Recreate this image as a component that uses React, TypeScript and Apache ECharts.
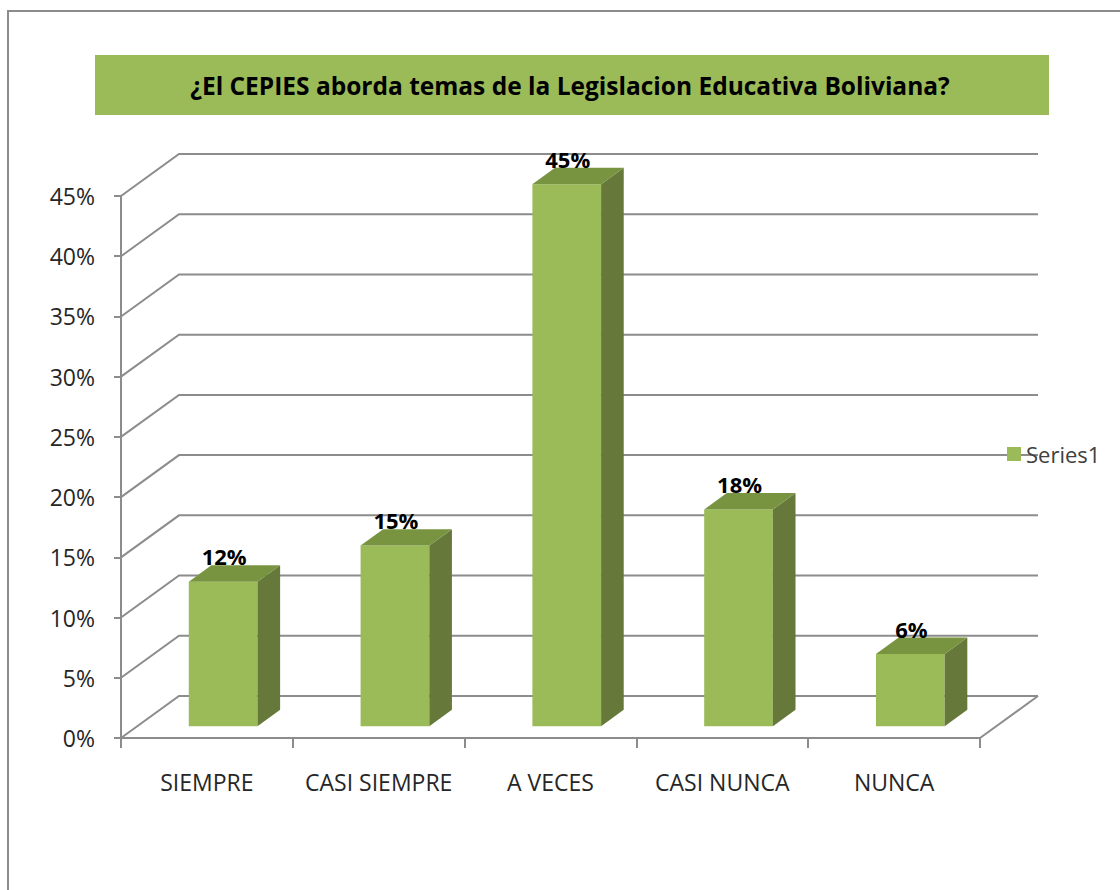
import React, { useEffect, useRef } from "react";
import * as echarts from "echarts";

const categories = ["SIEMPRE", "CASI SIEMPRE", "A VECES", "CASI NUNCA", "NUNCA"];
const values = [12, 15, 45, 18, 6];
const gridValues = [0, 5, 10, 15, 20, 25, 30, 35, 40, 45];
const seriesName = "Series1";
const titleText = "¿El CEPIES aborda temas de la Legislacion Educativa Boliviana?";

const FONT = '"Open Sans", "Liberation Sans", sans-serif';
const DX = 58;
const DY = 42;
const F1 = 0.28;
const F2 = 0.39;
const GRID_COLOR = "#8c8c8c";
const FRONT = "#9BBB59";
const SIDE = "#66793A";
const TOP = "#789440";

export default function App() {
  const ref = useRef<HTMLDivElement>(null);
  useEffect(() => {
    document.body.style.margin = "0";
    const chart = echarts.init(ref.current!, null, { renderer: "svg" });
    const option: any = {
      animation: false,
      backgroundColor: "#ffffff",
      graphic: [
        {
          type: "rect",
          z: 0,
          shape: { x: 8, y: 11, width: 1140, height: 920 },
          style: { fill: "none", stroke: GRID_COLOR, lineWidth: 2 },
        },
        {
          type: "rect",
          z: 1,
          shape: { x: 95, y: 55, width: 954, height: 60 },
          style: { fill: FRONT },
        },
        {
          type: "text",
          z: 2,
          x: 570,
          y: 85,
          style: {
            text: titleText,
            fill: "#000000",
            font: `bold 24.5px ${FONT}`,
            align: "center",
            verticalAlign: "middle",
            textAlign: "center",
            textVerticalAlign: "middle",
          },
        },
      ],
      legend: {
        show: true,
        data: [seriesName],
        left: 1002,
        top: 438,
        icon: "rect",
        itemWidth: 14,
        itemHeight: 14,
        selectedMode: false,
        textStyle: { fontSize: 22, fontFamily: FONT, color: "#404040" },
      },
      grid: {
        left: 121,
        top: 196,
        width: 859,
        height: 542,
        containLabel: false,
        outerBoundsMode: "none",
      },
      xAxis: {
        type: "category",
        data: categories,
        axisLine: { show: true, lineStyle: { color: GRID_COLOR, width: 2 } },
        axisTick: { show: true, interval: 0, length: 10, lineStyle: { color: GRID_COLOR, width: 2 } },
        axisLabel: { interval: 0, margin: 32, fontSize: 23, fontFamily: FONT, color: "#262626" },
        splitLine: { show: false },
      },
      yAxis: {
        type: "value",
        min: 0,
        max: 45,
        interval: 5,
        axisLine: { show: true, lineStyle: { color: GRID_COLOR, width: 2 } },
        axisTick: { show: true, length: 7, lineStyle: { color: GRID_COLOR, width: 2 } },
        axisLabel: {
          formatter: "{value}%",
          margin: 26,
          fontSize: 23,
          fontFamily: FONT,
          color: "#262626",
        },
        splitLine: { show: false },
      },
      series: [
        {
          name: "walls",
          type: "custom",
          z: 1,
          silent: true,
          clip: false,
          encode: { x: 0, y: 1 },
          data: gridValues.map((v) => [0, v]),
          renderItem: (params: any, api: any) => {
            const cs = params.coordSys;
            const v = api.value(1);
            const y = api.coord([0, v])[1];
            const x0 = cs.x;
            const x1 = cs.x + cs.width;
            const style = { stroke: GRID_COLOR, lineWidth: 2, fill: "none" };
            const children: any[] = [
              {
                type: "polyline",
                shape: { points: [[x0, y], [x0 + DX, y - DY], [x1 + DX, y - DY]] },
                style,
              },
            ];
            if (v === 0) {
              children.push({
                type: "line",
                shape: { x1: x1, y1: y, x2: x1 + DX, y2: y - DY },
                style,
              });
            }
            return { type: "group", children };
          },
        },
        {
          name: seriesName,
          type: "custom",
          z: 2,
          clip: false,
          itemStyle: { color: FRONT },
          encode: { x: 0, y: 1 },
          data: values.map((v, i) => [i, v]),
          renderItem: (params: any, api: any) => {
            const i = api.value(0);
            const v = api.value(1);
            const base = api.coord([i, 0]);
            const top = api.coord([i, v]);
            const w = api.size([1, 0])[0] * 0.4;
            const cx = base[0] + F1 * DX;
            const xl = cx - w / 2;
            const xr = cx + w / 2;
            const yb = base[1] - F1 * DY;
            const yt = top[1] - F1 * DY;
            const sx = F2 * DX;
            const sy = F2 * DY;
            return {
              type: "group",
              children: [
                {
                  type: "rect",
                  shape: { x: xl, y: yt, width: w, height: yb - yt },
                  style: { fill: FRONT },
                },
                {
                  type: "polygon",
                  shape: { points: [[xr, yb], [xr, yt], [xr + sx, yt - sy], [xr + sx, yb - sy]] },
                  style: { fill: SIDE },
                },
                {
                  type: "polygon",
                  shape: { points: [[xl, yt], [xr, yt], [xr + sx, yt - sy], [xl + sx, yt - sy]] },
                  style: { fill: TOP },
                },
                {
                  type: "text",
                  x: cx + 1,
                  y: yt - sy + 2,
                  style: {
                    text: `${v}%`,
                    fill: "#000000",
                    font: `bold 22px ${FONT}`,
                    align: "center",
                    verticalAlign: "bottom",
                    textAlign: "center",
                    textVerticalAlign: "bottom",
                  },
                },
              ],
            };
          },
        },
      ],
    };
    chart.setOption(option);
    return () => chart.dispose();
  }, []);
  return <div ref={ref} style={{ width: 1120, height: 890 }} />;
}
